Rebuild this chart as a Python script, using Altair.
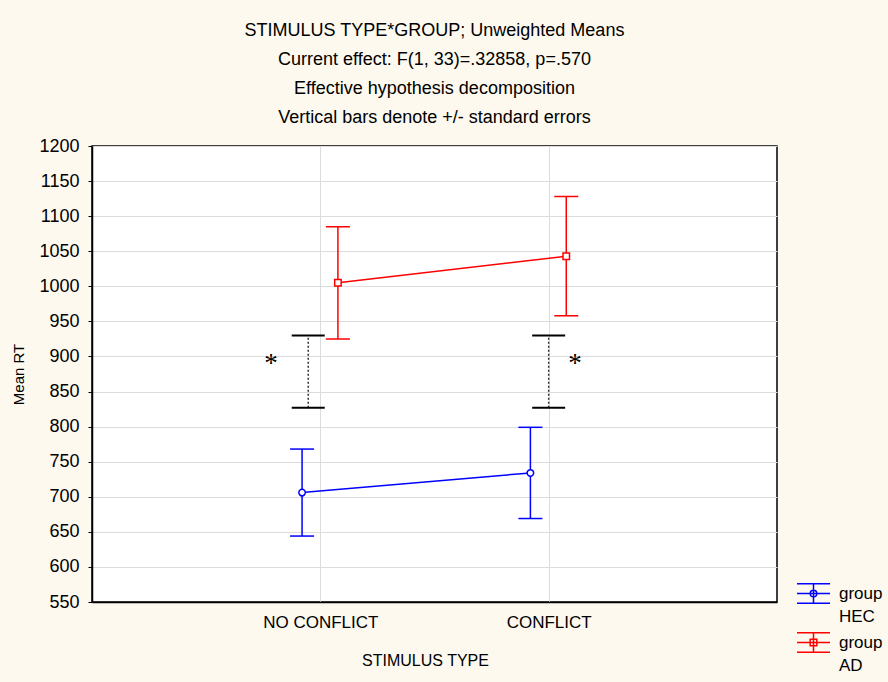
import altair as alt
import pandas as pd

# ---- values -------------------------------------------------------------
categories = ["NO CONFLICT", "CONFLICT"]
groups = ["HEC", "AD"]
group_colors = ["#0000FF", "#FF0000"]
group_shapes = ["circle", "square"]

hec_mean = [706, 734]
hec_se = [62, 65]
ad_mean = [1005, 1043]
ad_se = [80, 85]

# significance brackets between the groups, one per stimulus type
sig_low = [827, 827]
sig_high = [930, 930]
sig_label = ["*", "*"]

y_ticks = list(range(550, 1201, 50))

title_lines = [
    "STIMULUS TYPE*GROUP; Unweighted Means",
    "Current effect: F(1, 33)=.32858, p=.570",
    "Effective hypothesis decomposition",
    "Vertical bars denote +/- standard errors",
]

FONT = "Liberation Sans"
BG = "#FDF9EF"

# ---- tables -------------------------------------------------------------
rows = []
for g, means, ses in zip(groups, [hec_mean, ad_mean], [hec_se, ad_se]):
    for i, (c, m, s) in enumerate(zip(categories, means, ses)):
        rows.append({"group": g, "stim": c, "pos": i + 1, "mean": m, "se": s})
means_df = pd.DataFrame(rows)

sig_df = pd.DataFrame({
    "stim": categories,
    "pos": list(range(1, len(categories) + 1)),
    "low": sig_low,
    "high": sig_high,
    "label": sig_label,
})

# horizontal dodge of each group around its category (in x units)
dodge = {"HEC": -0.08, "AD": 0.077}

x_scale = alt.Scale(domain=[0, len(categories) + 1])
y_scale = alt.Scale(domain=[y_ticks[0], y_ticks[-1]], nice=False, zero=False)

label_expr = " : ".join(
    f"datum.value == {i + 1} ? '{c}'" for i, c in enumerate(categories)
) + " : ''"

x_enc = alt.X(
    "xpos:Q",
    scale=x_scale,
    title="STIMULUS TYPE",
    axis=alt.Axis(values=list(range(1, len(categories) + 1)), labelExpr=label_expr),
)

base = alt.Chart(means_df).transform_calculate(
    lo="datum.mean - datum.se",
    hi="datum.mean + datum.se",
)


def group_layers(g, color, shape):
    b = base.transform_filter(alt.datum.group == g).transform_calculate(
        xpos=f"datum.pos + {dodge[g]}"
    )
    line = b.mark_line(color=color, strokeWidth=1.5).encode(
        x=x_enc,
        y=alt.Y("mean:Q", scale=y_scale, title="Mean RT",
                axis=alt.Axis(values=y_ticks, tickCount=len(y_ticks) + 1,
                              format="d", labelOverlap=False,
                              labelFlush=False)),
    )
    bar = b.mark_rule(color=color, strokeWidth=1.5).encode(
        x="xpos:Q", y="lo:Q", y2="hi:Q"
    )
    cap_lo = b.mark_tick(color=color, orient="horizontal", size=24,
                         thickness=1.5, opacity=1).encode(x="xpos:Q", y="lo:Q")
    cap_hi = b.mark_tick(color=color, orient="horizontal", size=24,
                         thickness=1.5, opacity=1).encode(x="xpos:Q", y="hi:Q")
    pts = b.mark_point(shape=shape, filled=True, fill="white", stroke=color,
                       strokeWidth=1.5, size=42, opacity=1).encode(
        x="xpos:Q", y="mean:Q"
    )
    return [line, bar, cap_lo, cap_hi, pts]


layers = []
for g, col, shp in zip(groups, group_colors, group_shapes):
    layers += group_layers(g, col, shp)

# significance brackets
sig_base = alt.Chart(sig_df).transform_calculate(
    xpos="datum.pos == 1 ? datum.pos - 0.053 : datum.pos",
    starx="datum.pos == 1 ? datum.pos - 0.216 : datum.pos + 0.115",
    mid="(datum.low + datum.high) / 2",
)
sig_rule = sig_base.mark_rule(color="#333333", strokeWidth=1.5,
                              strokeDash=[2, 2]).encode(
    x="xpos:Q", y="low:Q", y2="high:Q"
)
sig_cap_lo = sig_base.mark_tick(color="black", orient="horizontal", size=33,
                                thickness=2, opacity=1).encode(x="xpos:Q", y="low:Q")
sig_cap_hi = sig_base.mark_tick(color="black", orient="horizontal", size=33,
                                thickness=2, opacity=1).encode(x="xpos:Q", y="high:Q")
sig_star = sig_base.mark_text(font="Liberation Serif", fontSize=27,
                              color="black", baseline="middle",
                              dy=-8).encode(
    x="starx:Q", y="mid:Q", text="label:N"
)
layers += [sig_rule, sig_cap_lo, sig_cap_hi, sig_star]

# legend: error-bar glyph with the group marker in its middle
bar_glyph = "M-1,-0.59H1M-1,0.59H1M0,-0.59V0.59M-1,0H1"
legend_shapes = [
    bar_glyph + "M0.2,0A0.2,0.2 0 1 1 -0.2,0A0.2,0.2 0 1 1 0.2,0",
    bar_glyph + "M-0.2,-0.2H0.2V0.2H-0.2Z",
]
legend_def = alt.Legend(title=None, labelExpr="['group', datum.label]")
legend_layer = alt.Chart(means_df).transform_filter("false").mark_point(
    filled=False, strokeWidth=1.5, size=1089, opacity=1
).encode(
    x="pos:Q",
    y="mean:Q",
    shape=alt.Shape("group:N", scale=alt.Scale(domain=groups, range=legend_shapes),
                    legend=legend_def),
    color=alt.Color("group:N", scale=alt.Scale(domain=groups, range=group_colors),
                    legend=legend_def),
)
layers.append(legend_layer)

chart = alt.layer(*layers).properties(
    width=685,
    height=456,
    background=BG,
    padding={"left": 92, "top": 146, "right": 111, "bottom": 80},
    autosize=alt.AutoSizeParams(type="none"),
    title=alt.TitleParams(
        text=title_lines, font=FONT, fontSize=18, fontWeight="normal",
        color="black", lineHeight=29, anchor="middle", baseline="bottom",
        offset=-8, dx=0,
    ),
).configure(
    style={"guide-label": {"lineHeight": 23}}
).configure_view(
    fill="white", stroke="black", strokeWidth=1.5
).configure_axis(
    labelFont=FONT, titleFont=FONT, labelColor="black", titleColor="black",
    titleFontWeight="normal", grid=True, gridColor="#DCDCDC", gridWidth=1,
    domainColor="black", domainWidth=1.5, tickColor="black",
).configure_axisY(
    labelFontSize=18, titleFontSize=15, tickSize=4, labelPadding=9,
    titlePadding=12,
).configure_axisX(
    labelFontSize=17, titleFontSize=16, tickSize=0, labelPadding=12,
    titlePadding=22, titleX=333,
).configure_legend(
    orient="none", legendX=704, legendY=430, padding=0,
    labelFont=FONT, labelFontSize=17, labelColor="black",
    labelBaseline="middle", symbolStrokeWidth=1.5, symbolSize=1089,
    symbolOpacity=1, rowPadding=0, labelOffset=8,
)

chart.save("out.html", embed_options={"renderer": "svg", "actions": False})
